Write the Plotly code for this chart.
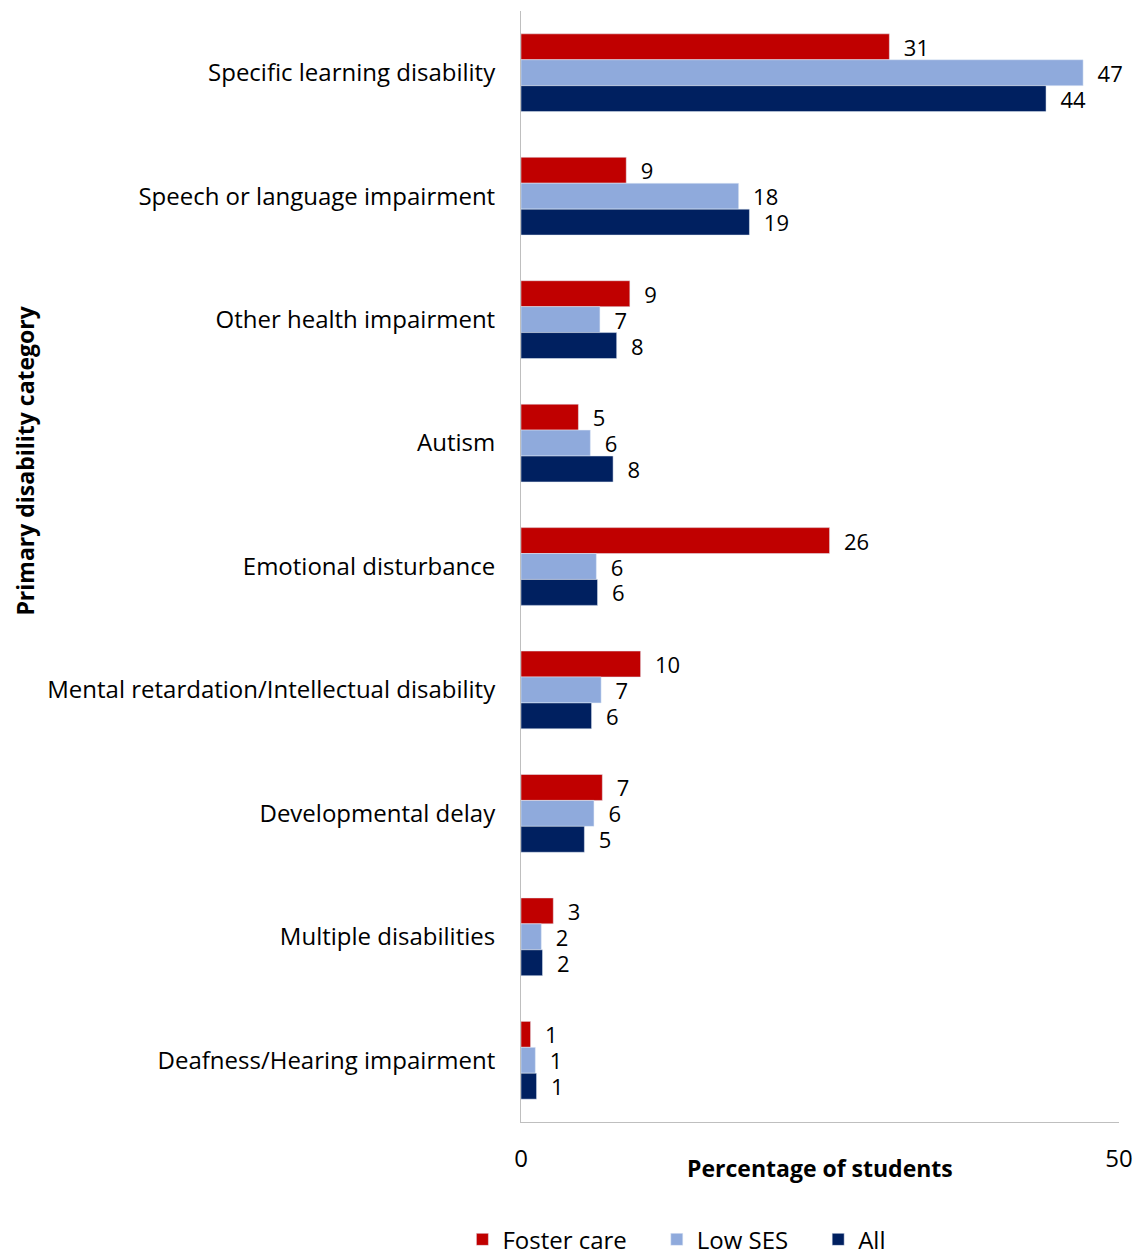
import plotly.graph_objects as go

categories = [
    "Specific learning disability",
    "Speech or language impairment",
    "Other health impairment",
    "Autism",
    "Emotional disturbance",
    "Mental retardation/Intellectual disability",
    "Developmental delay",
    "Multiple disabilities",
    "Deafness/Hearing impairment",
]

foster_care = [30.8, 8.8, 9.1, 4.8, 25.8, 10.0, 6.8, 2.7, 0.8]
low_ses = [47.0, 18.2, 6.6, 5.8, 6.3, 6.7, 6.1, 1.7, 1.2]
all_students = [43.9, 19.1, 8.0, 7.7, 6.4, 5.9, 5.3, 1.8, 1.3]

foster_labels = ["31", "9", "9", "5", "26", "10", "7", "3", "1"]
low_ses_labels = ["47", "18", "7", "6", "6", "7", "6", "2", "1"]
all_labels = ["44", "19", "8", "8", "6", "6", "5", "2", "1"]

x_ticks = [0, 50]

font_family = "Open Sans, sans-serif"
pad = "\u00a0\u00a0\u00a0\u00a0"

fig = go.Figure()

series = [
    ("Foster care", foster_care, foster_labels, "#C00000"),
    ("Low SES", low_ses, low_ses_labels, "#8FAADC"),
    ("All", all_students, all_labels, "#002060"),
]

for name, values, labels, color in series:
    fig.add_trace(
        go.Bar(
            y=categories,
            x=values,
            name=name + pad,
            orientation="h",
            marker=dict(color=color),
            text=labels,
            texttemplate="\u00a0\u00a0%{text}",
            textposition="outside",
            constraintext="none",
            textfont=dict(size=22, color="black", family=font_family),
            cliponaxis=False,
        )
    )

fig.update_layout(
    barmode="group",
    bargap=0.37,
    bargroupgap=0,
    width=1137,
    height=1258,
    plot_bgcolor="white",
    paper_bgcolor="white",
    font=dict(family=font_family, size=24, color="black"),
    margin=dict(l=521, r=18, t=11, b=136, autoexpand=False),
    showlegend=True,
    legend=dict(
        orientation="h",
        x=-0.098,
        xanchor="left",
        y=-0.106,
        yanchor="middle",
        font=dict(size=24),
        traceorder="normal",
    ),
    annotations=[
        dict(
            text="<b>Percentage of students</b>",
            x=0.5,
            xref="paper",
            y=-0.041,
            yref="paper",
            yanchor="middle",
            showarrow=False,
            font=dict(size=23),
        ),
        dict(
            text="<b>Primary disability category</b>",
            x=-0.83,
            xref="paper",
            xanchor="center",
            y=0.595,
            yref="paper",
            yanchor="middle",
            textangle=-90,
            showarrow=False,
            font=dict(size=23),
        ),
    ],
)

fig.update_xaxes(
    range=[0, 50],
    tickvals=x_ticks,
    ticks="outside",
    ticklen=15,
    tickcolor="rgba(0,0,0,0)",
    showgrid=False,
    zeroline=False,
    showline=True,
    linecolor="#BFBFBF",
    linewidth=1,
    tickfont=dict(size=24),
    automargin=False,
)

fig.update_yaxes(
    autorange="reversed",
    ticks="outside",
    ticklen=20,
    tickcolor="rgba(0,0,0,0)",
    showgrid=False,
    showline=True,
    linecolor="#BFBFBF",
    linewidth=1,
    tickfont=dict(size=24),
    automargin=False,
)

fig.write_html(
    "out.html",
    config={"displayModeBar": False},
    post_script="document.body.style.margin='0';",
)
